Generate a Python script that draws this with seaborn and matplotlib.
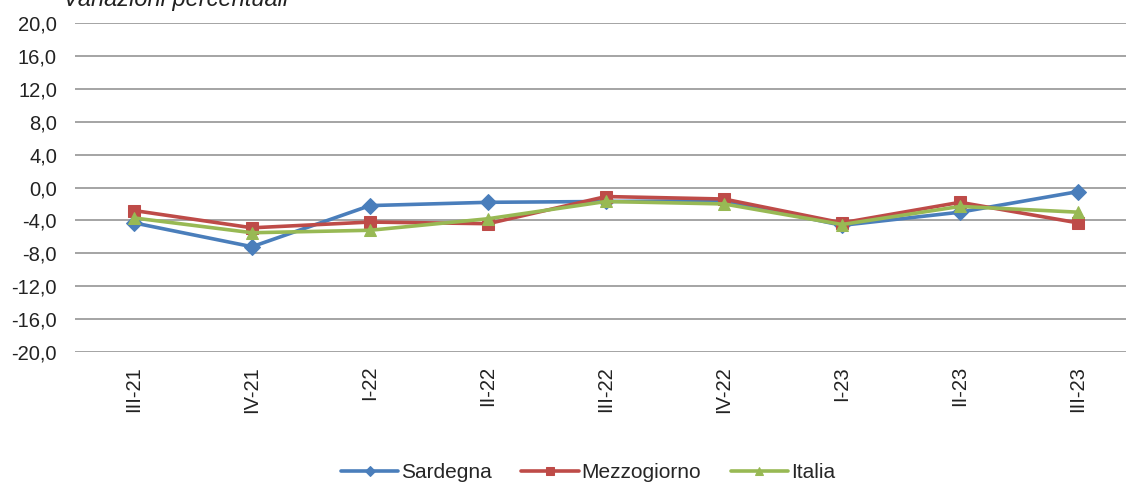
import numpy as np
import pandas as pd
import matplotlib
matplotlib.use("Agg")
import matplotlib.pyplot as plt
import seaborn as sns

# data
quarters = ["III-21", "IV-21", "I-22", "II-22", "III-22", "IV-22", "I-23", "II-23", "III-23"]
sardegna = [-4.3, -7.2, -2.2, -1.8, -1.7, -1.6, -4.6, -3.0, -0.5]
mezzogiorno = [-2.8, -4.9, -4.2, -4.4, -1.1, -1.4, -4.3, -1.8, -4.3]
italia = [-3.7, -5.5, -5.2, -3.8, -1.7, -2.0, -4.5, -2.3, -3.0]
yticks = np.arange(-20, 21, 4)

sns.set_theme(style="white")
plt.rcParams['font.family'] = ['Liberation Sans', 'DejaVu Sans']

fig = plt.figure(figsize=(11.26, 4.87), dpi=100)
ax = fig.add_axes([75/1126, 1-352/487, 1-75/1126, 329/487])

pos = np.arange(len(quarters))
series = [("Sardegna", sardegna, "#4a7ebb", "D", 8),
          ("Mezzogiorno", mezzogiorno, "#be4b48", "s", 8),
          ("Italia", italia, "#98b954", "^", 9)]
for name, vals, col, mk, ms in series:
    df = pd.DataFrame({"x": pos, "y": vals})
    sns.lineplot(data=df, x="x", y="y", ax=ax, color=col, marker=mk,
                 markersize=ms, markeredgecolor=col, linewidth=2.6, label=name)

ax.set_ylim(-20, 20)
ax.set_xlim(-0.5, -0.5 + (1126-75)/118)
ax.set_yticks(yticks)
ax.set_yticklabels([f"{v:.1f}".replace(".", ",") for v in yticks], fontsize=14.5, color="#222222")
ax.set_xticks(pos)
ax.set_xticklabels(quarters, rotation=90, fontsize=14.5, color="#222222")
ax.tick_params(axis="y", length=0, pad=13)
ax.tick_params(axis="x", length=0, pad=10)
ax.grid(axis="y", color="#8c8c8c", linewidth=1.1)
ax.grid(axis="x", visible=False)
for s in ax.spines.values():
    s.set_visible(False)
ax.set_xlabel("")
ax.set_ylabel("")

# title is partly cut at the top edge, as in the original
fig.text(63/1126, 1-6/487, "Variazioni percentuali", fontsize=17, style="italic",
         va="baseline", ha="left", color="#222222")

ax.legend(loc="center", bbox_to_anchor=(588/1126, 1-473/487), bbox_transform=fig.transFigure,
          ncol=3, frameon=False, fontsize=15, handlelength=2.75, columnspacing=1.4,
          handletextpad=0.15, markerscale=0.7)

fig.savefig("out.png", dpi=100)
